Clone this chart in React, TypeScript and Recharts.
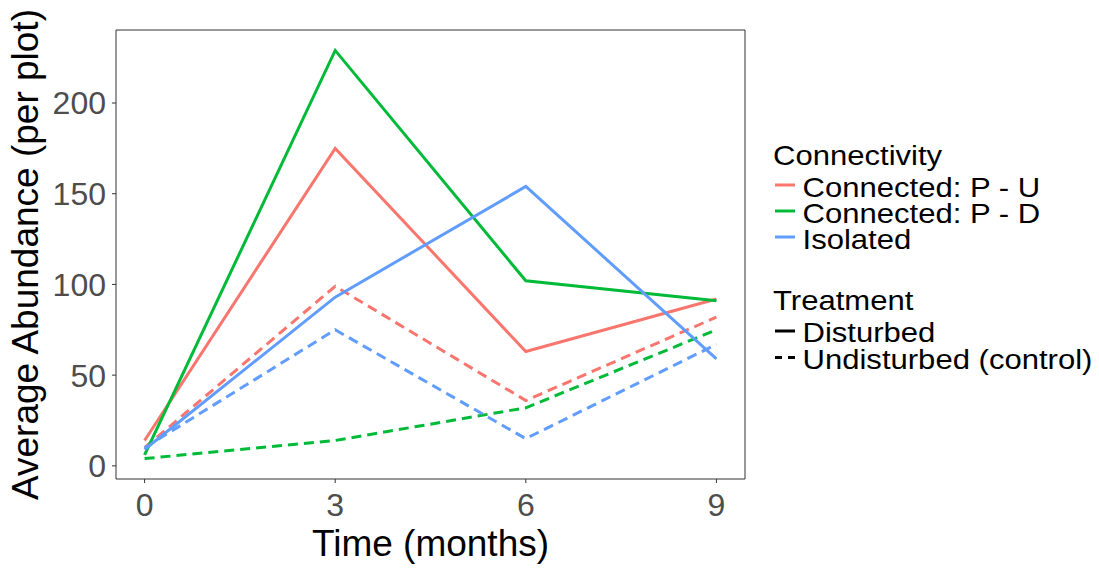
import React from "react";
import {
  LineChart,
  Line,
  XAxis,
  YAxis,
  ReferenceArea,
  Label,
} from "recharts";

// sampling times (months)
const months = [0, 3, 6, 9];

// average abundance per plot, disturbed plots
const puDisturbed = [14, 175, 63, 92];
const pdDisturbed = [6, 229, 102, 91];
const isoDisturbed = [9, 93, 154, 59];

// average abundance per plot, undisturbed (control) plots
const puControl = [10, 99, 36, 82];
const pdControl = [4, 14, 32, 75];
const isoControl = [10, 75, 15, 67];

const xTicks = [0, 3, 6, 9];
const yTicks = [0, 50, 100, 150, 200];

const connectivityLabels = ["Connected: P - U", "Connected: P - D", "Isolated"];
const connectivityColors = ["#F8766D", "#00BA38", "#619CFF"];
const treatmentLabels = ["Disturbed", "Undisturbed (control)"];
const treatmentDashes = ["", "7 6"];

const FONT = "'Liberation Sans', Arial, sans-serif";
const DASH = "10 6";

const data = months.map((m, i) => ({
  month: m,
  puD: puDisturbed[i],
  pdD: pdDisturbed[i],
  isoD: isoDisturbed[i],
  puC: puControl[i],
  pdC: pdControl[i],
  isoC: isoControl[i],
}));

// ggplot-style 5% expansion of the data range
const allValues = [
  ...puDisturbed,
  ...pdDisturbed,
  ...isoDisturbed,
  ...puControl,
  ...pdControl,
  ...isoControl,
];
const yMin = Math.min(...allValues);
const yMax = Math.max(...allValues);
const yPad = (yMax - yMin) * 0.05;
const yDomain = [yMin - yPad, yMax + yPad];
const xPad = (months[months.length - 1] - months[0]) * 0.05;
const xDomain = [months[0] - xPad, months[months.length - 1] + xPad];

const series = [
  { key: "pdC", color: connectivityColors[1], dash: DASH },
  { key: "puC", color: connectivityColors[0], dash: DASH },
  { key: "isoC", color: connectivityColors[2], dash: DASH },
  { key: "puD", color: connectivityColors[0], dash: undefined },
  { key: "pdD", color: connectivityColors[1], dash: undefined },
  { key: "isoD", color: connectivityColors[2], dash: undefined },
];

const tickStyle = { fill: "#4D4D4D", fontSize: 32, fontFamily: FONT };

function YTitle(props: any) {
  const vb = props.viewBox || { x: 0, y: 30, width: 116, height: 449 };
  const cx = 38;
  const cy = vb.y + vb.height / 2;
  return (
    <text
      x={cx}
      y={cy}
      textAnchor="middle"
      transform={`rotate(-90 ${cx} ${cy})`}
      fontSize={37}
      fontFamily={FONT}
      fill="#000"
    >
      Average Abundance (per plot)
    </text>
  );
}

function XTitle(props: any) {
  const vb = props.viewBox || { x: 116, y: 479, width: 629, height: 90 };
  return (
    <text
      x={vb.x + vb.width / 2}
      y={556}
      textAnchor="middle"
      fontSize={37}
      fontFamily={FONT}
      fill="#000"
    >
      Time (months)
    </text>
  );
}

// legend text is slightly wide, so stretch it horizontally
function LegendText({ x, y, children }: { x: number; y: number; children: React.ReactNode }) {
  return (
    <text transform={`translate(${x} ${y}) scale(1.09 1)`} x={0} y={0} fill="#000">
      {children}
    </text>
  );
}

function LegendBlock() {
  const lx = 773;
  const keyX1 = 775;
  const keyX2 = 795;
  const textX = 802.5;
  return (
    <svg
      width={1099}
      height={569}
      style={{ position: "absolute", left: 0, top: 0, pointerEvents: "none" }}
      fontFamily={FONT}
      fontSize={28.5}
    >
      <LegendText x={lx} y={164.5}>
        Connectivity
      </LegendText>
      {connectivityLabels.map((label, i) => {
        const base = 197 + i * 26;
        return (
          <g key={label}>
            <line
              x1={keyX1}
              x2={keyX2}
              y1={base - 12}
              y2={base - 12}
              stroke={connectivityColors[i]}
              strokeWidth={3}
            />
            <LegendText x={textX} y={base}>
              {label}
            </LegendText>
          </g>
        );
      })}
      <LegendText x={lx} y={310}>
        Treatment
      </LegendText>
      {treatmentLabels.map((label, i) => {
        const base = 342 + i * 26.5;
        return (
          <g key={label}>
            <line
              x1={keyX1}
              x2={keyX2}
              y1={base - 11}
              y2={base - 11}
              stroke="#000"
              strokeWidth={3}
              strokeDasharray={treatmentDashes[i] || undefined}
            />
            <LegendText x={textX} y={base}>
              {label}
            </LegendText>
          </g>
        );
      })}
    </svg>
  );
}

export default function App() {
  return (
    <div
      style={{
        position: "absolute",
        left: 0,
        top: 0,
        width: 1099,
        height: 569,
        background: "#fff",
        fontFamily: FONT,
      }}
    >
      <LineChart
        width={1099}
        height={569}
        data={data}
        margin={{ top: 30, right: 354, bottom: 0, left: 0 }}
      >
        <XAxis
          dataKey="month"
          type="number"
          domain={xDomain}
          ticks={xTicks}
          height={90}
          axisLine={false}
          tickLine={{ stroke: "#333", strokeWidth: 1 }}
          tickSize={4}
          tickMargin={10}
          tick={tickStyle}
        >
          <Label content={<XTitle />} />
        </XAxis>
        <YAxis
          type="number"
          domain={yDomain}
          ticks={yTicks}
          width={116}
          axisLine={false}
          tickLine={{ stroke: "#333", strokeWidth: 1 }}
          tickSize={4}
          tickMargin={6}
          tick={tickStyle}
        >
          <Label content={<YTitle />} />
        </YAxis>
        <ReferenceArea
          x1={xDomain[0]}
          x2={xDomain[1]}
          y1={yDomain[0]}
          y2={yDomain[1]}
          fill="none"
          stroke="#333"
          strokeWidth={1}
          ifOverflow="visible"
        />
        {series.map((s) => (
          <Line
            key={s.key}
            type="linear"
            dataKey={s.key}
            stroke={s.color}
            strokeWidth={3}
            strokeDasharray={s.dash}
            dot={false}
            activeDot={false}
            isAnimationActive={false}
          />
        ))}
      </LineChart>
      <LegendBlock />
    </div>
  );
}
